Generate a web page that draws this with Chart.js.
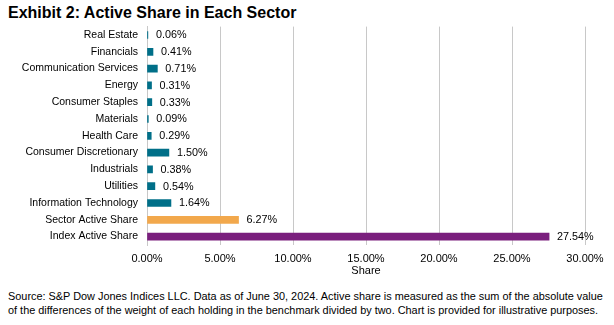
<!DOCTYPE html>
<html>
<head>
<meta charset="utf-8">
<script src="https://cdn.jsdelivr.net/npm/chart.js@4"></script>
<style>
  html, body { margin: 0; padding: 0; background: #fff; }
  body { width: 614px; height: 325px; position: relative; overflow: hidden; font-family: "Liberation Sans", Arial, sans-serif; }
  #title { position: absolute; left: 8px; top: 4px; font-size: 16px; font-weight: bold; color: #000; white-space: nowrap; }
  #wrap { position: absolute; left: 0; top: 0; width: 614px; height: 283px; }
  #note { position: absolute; left: 8px; top: 289px; font-size: 10.9px; line-height: 14px; color: #000; width: 606px; }
</style>
</head>
<body>
<div id="title">Exhibit 2: Active Share in Each Sector</div>
<div id="wrap"><canvas id="chart"></canvas></div>
<div id="note">Source: S&amp;P Dow Jones Indices LLC. Data as of June 30, 2024. Active share is measured as the sum of the absolute value of the differences of the weight of each holding in the benchmark divided by two. Chart is provided for illustrative purposes.</div>
<script>
/* Data */
const categories = [
  "Real Estate", "Financials", "Communication Services", "Energy",
  "Consumer Staples", "Materials", "Health Care", "Consumer Discretionary",
  "Industrials", "Utilities", "Information Technology",
  "Sector Active Share", "Index Active Share"
];
const shareValues = [0.06, 0.41, 0.71, 0.31, 0.33, 0.09, 0.29, 1.50, 0.38, 0.54, 1.64, 6.27, 27.54];
const xTicks = [0, 5, 10, 15, 20, 25, 30];

const TEAL = "#006F88", ORANGE = "#F2A84C", PURPLE = "#7A1F7D";
const barColors = categories.map(c =>
  c === "Index Active Share" ? PURPLE : c === "Sector Active Share" ? ORANGE : TEAL);

const FONT = "'Liberation Sans', Arial, sans-serif";

/* value labels to the right of each bar */
const valueLabels = {
  id: "valueLabels",
  afterDatasetsDraw(chart) {
    const ctx = chart.ctx;
    const meta = chart.getDatasetMeta(0);
    ctx.save();
    ctx.font = "10.8px " + FONT;
    ctx.fillStyle = "#000";
    ctx.textAlign = "left";
    ctx.textBaseline = "middle";
    meta.data.forEach((bar, i) => {
      ctx.fillText(shareValues[i].toFixed(2) + "%", bar.x + 8, bar.y + 0.5);
    });
    ctx.restore();
  }
};

new Chart(document.getElementById("chart"), {
  type: "bar",
  data: {
    labels: categories,
    datasets: [{
      data: shareValues,
      backgroundColor: barColors,
      barThickness: 7
    }]
  },
  options: {
    indexAxis: "y",
    responsive: true,
    maintainAspectRatio: false,
    animation: false,
    layout: { padding: { top: 26.6, right: 29, left: 0, bottom: 0 } },
    plugins: { legend: { display: false }, tooltip: { enabled: false } },
    scales: {
      x: {
        min: 0, max: 30,
        afterBuildTicks: (s) => { s.ticks = xTicks.map(v => ({ value: v })); },
        afterFit: (s) => { s.height = 38; },
        grid: { color: "#C8C8C8", lineWidth: 1, drawTicks: false },
        border: { display: false },
        ticks: {
          padding: 7,
          color: "#000",
          font: { family: FONT, size: 11 },
          callback: (v) => Number(v).toFixed(2) + "%"
        },
        title: { display: true, text: "Share", color: "#000", font: { family: FONT, size: 11 }, padding: { top: 4, bottom: 5 } }
      },
      y: {
        afterFit: (s) => { s.width = 147; },
        grid: { display: false, drawTicks: false },
        border: { display: true, color: "#C8C8C8", width: 1 },
        ticks: { padding: 9, color: "#000", font: { family: FONT, size: 10.5 } }
      }
    }
  },
  plugins: [valueLabels]
});
</script>
</body>
</html>
